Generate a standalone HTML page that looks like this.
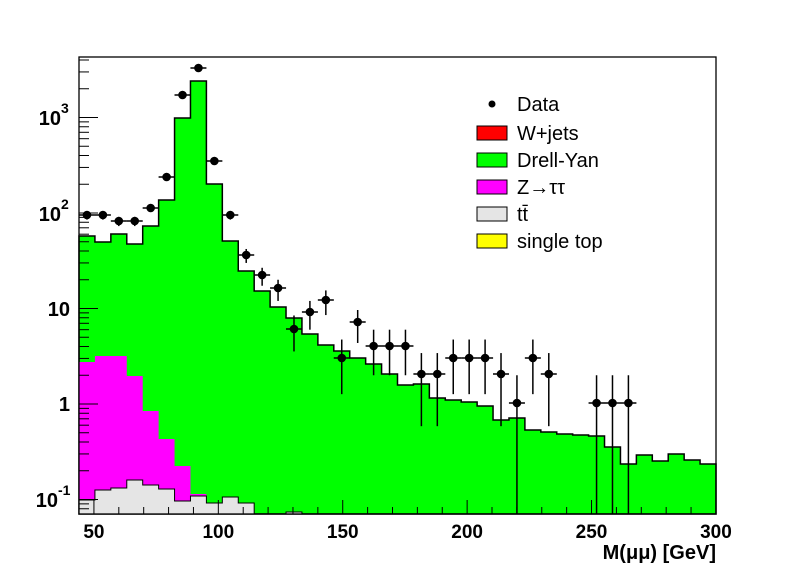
<!DOCTYPE html>
<html><head><meta charset="utf-8"><style>body{margin:0;background:#fff}svg{display:block}text{font-family:"Liberation Sans",sans-serif}</style></head>
<body><svg id="s" width="796" height="572" xmlns="http://www.w3.org/2000/svg"></svg>
<script>
const s=document.getElementById('s');let h='';
const L=79,R=716,T=57,B=514,W=15.925;
const Y=v=>404-95.5*Math.log10(v);
const X=m=>79+(m-44)*2.488;
const green=[236,242,234,244,226,200,118,81,184,241,271,291,307,318,334,345,351,358,364,374,385,384,398,400,402,406,420,418,430,432,434,435,436,447,464,455,461,454,460,464];
const mag=[362,356,356,376,411,439,466,494];
const gray=[500,490,488,480,485,489,501,496,503,497,503,514,514,512];
function stair(arr){let d='M'+L+','+B;arr.forEach((y,i)=>{d+=' L'+(L+i*W)+','+y+' L'+(L+(i+1)*W)+','+y});d+=' L'+(L+arr.length*W)+','+B+' Z';return d;}
h+=`<path d="${stair(green)}" fill="#00ff00" stroke="#000" stroke-width="1.5"/>`;
h+=`<path d="${stair(mag)}" fill="#ff00ff" stroke="none"/>`;
h+=`<path d="${stair(gray)}" fill="#e5e5e5" stroke="#000" stroke-width="1"/>`;
const pts=[[0,215],[1,215],[2,221],[3,221],[4,208],[5,177],[6,95],[7,68],[8,161],[9,215],[10,255],[11,275],[12,288],[13,329],[14,312],[15,300],[16,358],[17,322],[18,346],[19,346],[20,346],[21,374],[22,374],[23,358],[24,358],[25,358],[26,374],[27,403],[28,358],[29,374],[32,403],[33,403],[34,403]];
pts.forEach(([i,y])=>{const x=L+(i+0.5)*W;const N=Math.round(Math.pow(10,(404-y)/95.5));const e=Math.sqrt(N);
const yt=Y(N+e);const yb=N-e>0.07?Y(N-e):B;
h+=`<line x1="${x}" y1="${yt}" x2="${x}" y2="${yb}" stroke="#000" stroke-width="1.5"/><line x1="${x-8}" y1="${y}" x2="${x+8}" y2="${y}" stroke="#000" stroke-width="1.5"/><circle cx="${x}" cy="${y}" r="4.3" fill="#000"/>`;});
h+=`<rect x="${L}" y="${T}" width="${R-L}" height="${B-T}" fill="none" stroke="#000" stroke-width="1.3"/>`;
for(let m=50;m<=300;m+=10){const x=X(m);const l=(m%50==0)?14:7;h+=`<line x1="${x}" y1="${B}" x2="${x}" y2="${B-l}" stroke="#000"/>`;}
[50,100,150,200,250,300].forEach(m=>h+=`<text x="${X(m)}" y="538" font-size="19" font-weight="bold" text-anchor="middle">${m}</text>`);
h+=`<text x="716" y="559" font-size="20" font-weight="bold" text-anchor="end">M(μμ) [GeV]</text>`;
for(let d=-2;d<=3;d++)for(let k=1;k<10;k++){const v=k*Math.pow(10,d);const y=Y(v);if(y<T||y>B)continue;const l=k==1?19:10;h+=`<line x1="${L}" y1="${y}" x2="${L+l}" y2="${y}" stroke="#000"/>`;}
h+=`<text x="61" y="125" font-size="20" font-weight="bold" text-anchor="end">10</text><text x="61" y="113" font-size="14" font-weight="bold">3</text>`;
h+=`<text x="61" y="221" font-size="20" font-weight="bold" text-anchor="end">10</text><text x="61" y="209" font-size="14" font-weight="bold">2</text>`;
h+=`<text x="70" y="316" font-size="20" font-weight="bold" text-anchor="end">10</text>`;
h+=`<text x="70" y="411" font-size="20" font-weight="bold" text-anchor="end">1</text>`;
h+=`<text x="58" y="507" font-size="20" font-weight="bold" text-anchor="end">10</text><text x="58" y="495" font-size="14" font-weight="bold">-1</text>`;
h+=`<circle cx="492" cy="104" r="3.5" fill="#000"/><text x="517" y="111" font-size="20">Data</text>`;
[['#ff0000','W+jets'],['#00ff00','Drell-Yan'],['#ff00ff','Z→ττ'],['#e5e5e5','tt̄'],['#ffff00','single top']].forEach(([c,t],i)=>{const y=126+i*27;
h+=`<rect x="477" y="${y}" width="30" height="14" fill="${c}" stroke="#000"/><text x="517" y="${y+14}" font-size="20">${t}</text>`;});
s.innerHTML=h;
</script></body></html>
